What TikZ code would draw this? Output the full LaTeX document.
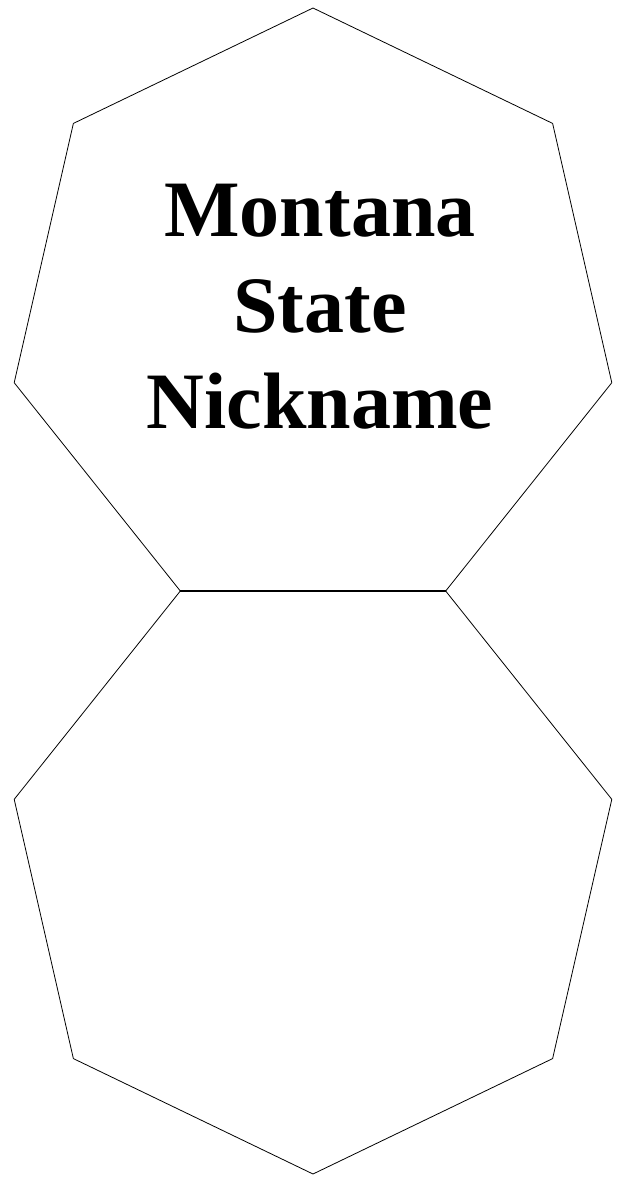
\documentclass[tikz,border=0pt]{standalone}
\usepackage{fontspec}
\setmainfont{Liberation Serif}
\usetikzlibrary{shapes.geometric}
\begin{document}
\begin{tikzpicture}[x=1pt,y=-1pt,line width=0.8pt]
  \tikzset{hepta/.style={draw,regular polygon,regular polygon sides=7,
      minimum size=613pt,inner sep=0pt,outer sep=0pt}}
  \useasboundingbox (0,0) rectangle (619,1179);

  \node[hepta] (upper) at (313,314.5) {};
  \node[hepta,shape border rotate=180] (lower) at (313,867.5) {};

  \node[align=center,font=\bfseries\fontsize{80pt}{96pt}\selectfont] (title)
    at (320,307) {Montana\\State\\Nickname};
\end{tikzpicture}
\end{document}
